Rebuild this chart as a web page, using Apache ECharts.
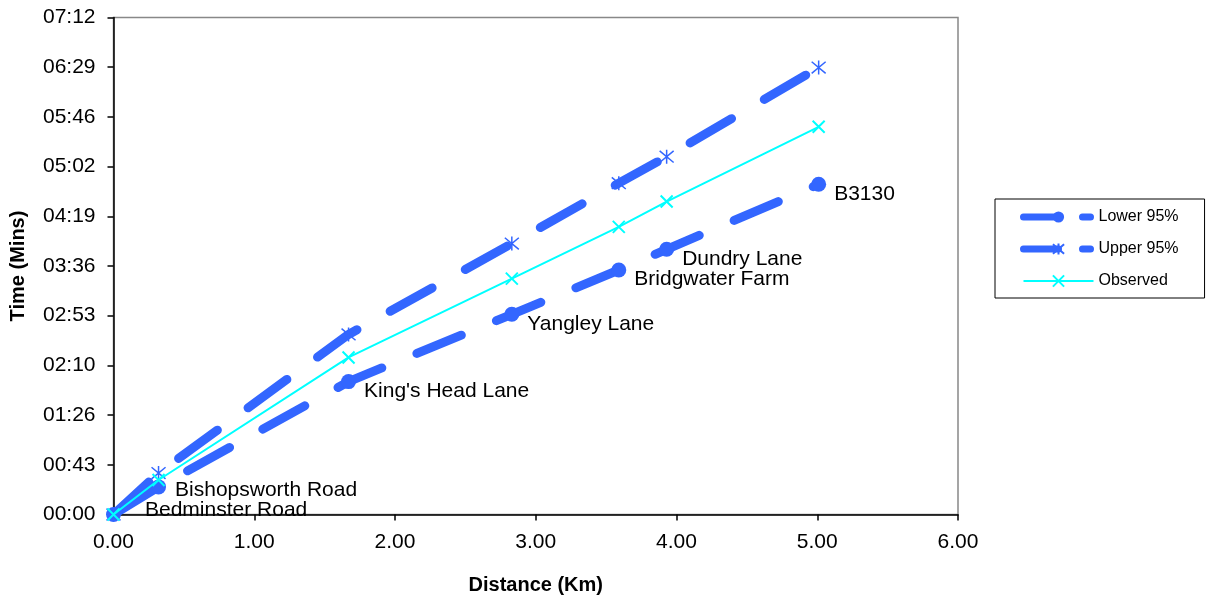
<!DOCTYPE html>
<html>
<head>
<meta charset="utf-8">
<script src="https://cdn.jsdelivr.net/npm/echarts@6/dist/echarts.min.js"></script>
<style>
  html, body { margin: 0; padding: 0; background: #fff; }
  #chart { width: 1206px; height: 598px; }
</style>
</head>
<body>
<div id="chart"></div>
<script>
// Stops along the route and cumulative distance (km)
const stops = ['Bedminster Road', 'Bishopsworth Road', "King's Head Lane", 'Yangley Lane', 'Bridgwater Farm', 'Dundry Lane', 'B3130'];
const distanceKm = [0, 0.32, 1.67, 2.83, 3.59, 3.93, 5.01];

// Journey times in seconds
const lower95 = [0, 24, 115.5, 174, 212.5, 230.5, 287];
const upper95 = [0, 36, 156.5, 235.5, 288, 311, 388.5];
const observed = [0, 30, 136.5, 205, 250, 272, 337];

// Time axis labels (mm:ss), one per 43.2 s step
const yTickLabels = ['00:00', '00:43', '01:26', '02:10', '02:53', '03:36', '04:19', '05:02', '05:46', '06:29', '07:12'];
const xTickLabels = ['0.00', '1.00', '2.00', '3.00', '4.00', '5.00', '6.00'];

const BLUE = '#3366FF';
const CYAN = '#00FFFF';
const FONT = 'Liberation Sans, Arial, sans-serif';

const pairs = (ys) => distanceKm.map((x, i) => [x, ys[i]]);

// Per-stop label nudges for the first two labels near the origin
const labelNudge = { 0: [19, -4], 1: [4, 3] };

const lowerData = pairs(lower95).map((p, i) => ({
  value: p,
  label: { offset: labelNudge[i] || [3, 9.5] }
}));

const chart = echarts.init(document.getElementById('chart'), null, { renderer: 'canvas' });

chart.setOption({
  animation: false,
  backgroundColor: '#fff',
  grid: {
    left: 113.5, top: 17.5, right: 248, bottom: 83.5,
    outerBoundsMode: 'none',
    containLabel: false,
    show: true, borderColor: '#888', borderWidth: 1.5, backgroundColor: 'transparent'
  },
  legend: {
    orient: 'vertical',
    left: 995, top: 199,
    padding: [10, 26, 9, 25],
    itemWidth: 70, itemHeight: 14, itemGap: 16,
    borderColor: '#000', borderWidth: 1,
    textStyle: { fontFamily: FONT, fontSize: 16, color: '#000' },
    data: [
      { name: 'Lower 95%', lineStyle: { type: [35, 24, 8, 100], width: 7 } },
      { name: 'Upper 95%', lineStyle: { type: [35, 24, 8, 100], width: 7 } },
      { name: 'Observed' }
    ]
  },
  xAxis: {
    type: 'value', min: 0, max: 6, interval: 1,
    name: 'Distance (Km)', nameLocation: 'middle', nameGap: 61,
    nameTextStyle: { fontFamily: FONT, fontSize: 20, fontWeight: 'bold', color: '#000' },
    axisLine: { show: true, onZero: false, lineStyle: { color: '#000', width: 1.5 } },
    axisTick: { show: true, length: 6, lineStyle: { color: '#000', width: 1.5 } },
    axisLabel: {
      fontFamily: FONT, fontSize: 21, color: '#000', margin: 17,
      formatter: (v) => xTickLabels[Math.round(v)]
    },
    splitLine: { show: false }
  },
  yAxis: {
    type: 'value', min: 0, max: 432, interval: 43.2,
    name: 'Time (Mins)', nameLocation: 'middle', nameGap: 85, nameRotate: 90,
    nameTextStyle: { fontFamily: FONT, fontSize: 20, fontWeight: 'bold', color: '#000' },
    axisLine: { show: true, onZero: false, lineStyle: { color: '#000', width: 1.5 } },
    axisTick: { show: true, length: 6, lineStyle: { color: '#000', width: 1.5 } },
    axisLabel: {
      fontFamily: FONT, fontSize: 21, color: '#000', margin: 18,
      formatter: (v) => yTickLabels[Math.round(v / 43.2)]
    },
    splitLine: { show: false }
  },
  series: [
    {
      name: 'Lower 95%',
      type: 'line',
      data: lowerData,
      symbol: 'circle',
      symbolSize: 15,
      showAllSymbol: true,
      itemStyle: { color: BLUE },
      lineStyle: { color: BLUE, width: 9, type: [48, 38], cap: 'round', join: 'round' },
      label: {
        show: true, position: 'right', distance: 5,
        fontFamily: FONT, fontSize: 21, color: '#000',
        formatter: (p) => stops[p.dataIndex]
      },
      z: 2
    },
    {
      name: 'Upper 95%',
      type: 'line',
      data: pairs(upper95),
      symbol: 'path://M0,0L10,10M10,0L0,10M5,-1L5,11',
      symbolSize: 14,
      showAllSymbol: true,
      itemStyle: { color: BLUE, borderColor: BLUE, borderWidth: 1.5 },
      lineStyle: { color: BLUE, width: 9, type: [48, 38], cap: 'round', join: 'round' },
      z: 3
    },
    {
      name: 'Observed',
      type: 'line',
      data: pairs(observed),
      symbol: 'path://M0,0L10,10M10,0L0,10',
      symbolSize: 12,
      showAllSymbol: true,
      itemStyle: { color: CYAN, borderColor: CYAN, borderWidth: 2 },
      lineStyle: { color: CYAN, width: 2 },
      z: 4
    }
  ]
});
</script>
</body>
</html>
